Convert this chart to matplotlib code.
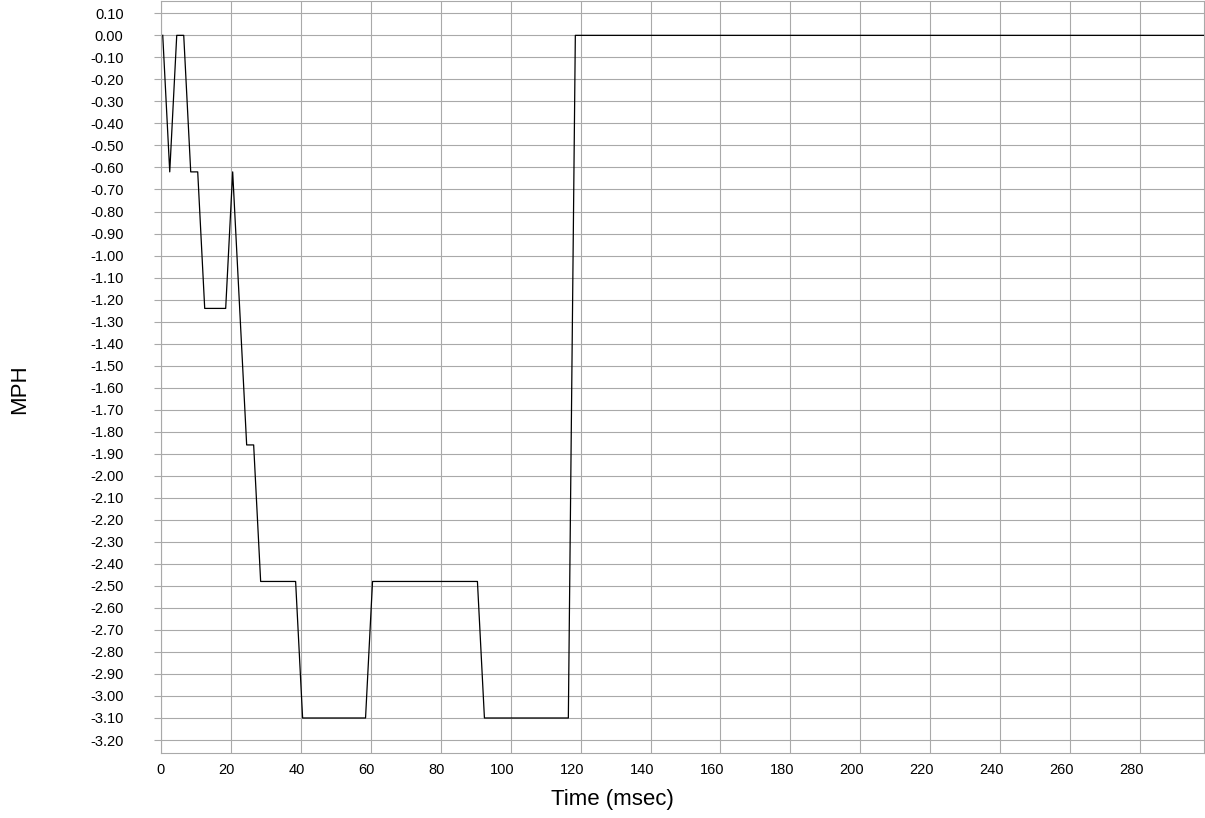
import matplotlib
matplotlib.use('Agg')
import matplotlib.pyplot as plt
import matplotlib.transforms as mtransforms
import numpy as np

plt.rcParams['font.family'] = ['Liberation Sans', 'DejaVu Sans']

# sample times (msec) where the speed trace changes
time_ms = [0.5, 2.5, 4.5, 6.5, 8.5, 10.5, 12.5, 18.5, 20.5, 24.5, 26.5,
           28.5, 38.5, 40.5, 58.5, 60.5, 90.5, 92.5, 116.5, 118.5, 298.5]
speed_mph = [0.00, -0.62, 0.00, 0.00, -0.62, -0.62, -1.24, -1.24, -0.62, -1.86, -1.86,
             -2.48, -2.48, -3.10, -3.10, -2.48, -2.48, -3.10, -3.10, 0.00, 0.00]

x_ticks = [0, 20, 40, 60, 80, 100, 120, 140, 160, 180, 200, 220, 240, 260, 280]
y_ticks = np.round(np.arange(0.10, -3.21, -0.10), 2) + 0.0

grid_color = '#a9a9a9'

fig = plt.figure(figsize=(12.05, 8.18), dpi=100)
ax = fig.add_axes([161 / 1205, 65 / 818, 1043 / 1205, 752 / 818])

ax.plot(time_ms, speed_mph, color='black', linewidth=0.9, zorder=3)

ax.set_xlim(0, 298.3)
ax.set_ylim(-3.259, 0.156)

ax.set_xticks(x_ticks)
ax.set_xticklabels([str(v) for v in x_ticks], fontsize=10.5)
ax.set_yticks(y_ticks)
ax.set_yticklabels([f"{v:.2f}" for v in y_ticks], fontsize=10.5)

ax.grid(True, color=grid_color, linewidth=0.8)
ax.set_axisbelow(True)
ax.tick_params(axis='x', length=0, pad=7)
ax.tick_params(axis='y', length=5, width=0.8, color=grid_color, pad=22)

# x labels sit right-aligned just past their grid line
shift = mtransforms.ScaledTranslation(4 / 100, 0, fig.dpi_scale_trans)
for lbl in ax.get_xticklabels():
    lbl.set_horizontalalignment('right')
    lbl.set_transform(lbl.get_transform() + shift)

for sp in ax.spines.values():
    sp.set_color(grid_color)
    sp.set_linewidth(0.8)

fig.text(612 / 1205, 1 - 800 / 818, 'Time (msec)', ha='center', va='center', fontsize=16)
fig.text(20 / 1205, 1 - 389 / 818, 'MPH', ha='center', va='center', rotation=90, fontsize=16)

fig.savefig('out.png', dpi=100)
